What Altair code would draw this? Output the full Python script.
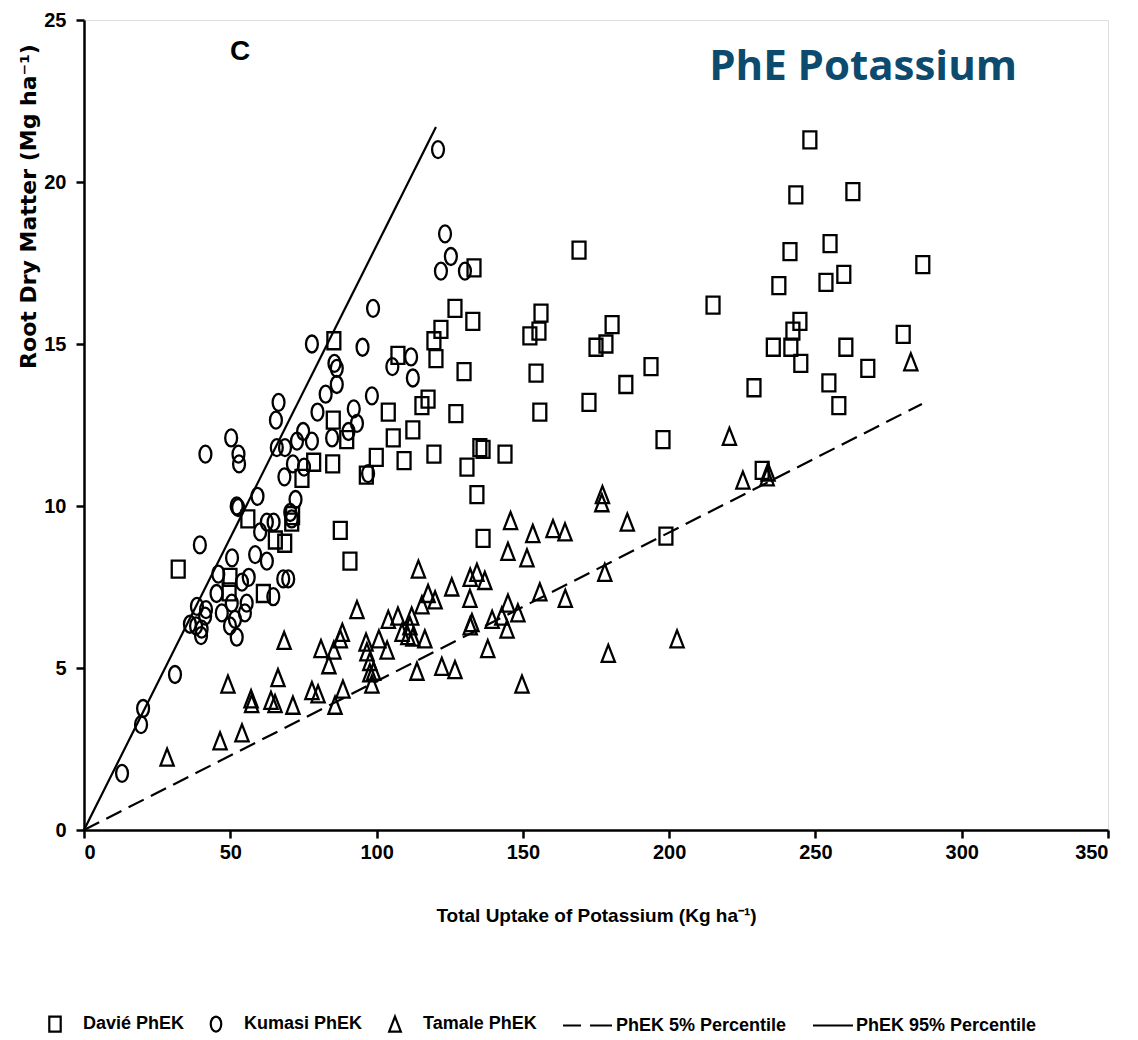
import altair as alt
import pandas as pd

# ---------------- data ----------------
davie_x = [32.2, 56.0, 49.9, 49.6, 61.3, 65.4, 68.6, 71.3, 71.0, 74.5, 78.5, 85.0, 87.6, 90.9, 96.5,
           99.9, 105.7, 104.0, 85.2, 89.8, 85.4, 133.3, 169.2, 126.8, 132.9, 156.2, 155.5, 152.4, 122.0,
           119.6, 120.3, 107.3, 129.9, 154.5, 180.5, 178.4, 175.0, 193.8, 185.2, 215.0, 237.5, 235.6,
           229.0, 117.6, 115.5, 112.4, 127.1, 155.8, 172.6, 109.4, 119.6, 130.9, 135.3, 136.4, 143.9,
           197.9, 134.3, 136.4, 198.9, 231.8, 248.1, 243.3, 262.8, 241.3, 255.0, 253.6, 259.7, 286.7,
           244.7, 242.3, 241.6, 260.4, 280.0, 245.0, 267.9, 254.6, 258.0]
davie_y = [8.05, 9.6, 7.8, 7.35, 7.3, 8.95, 8.85, 9.7, 9.5, 10.85, 11.35, 11.3, 9.25, 8.3, 10.95,
           11.5, 12.1, 12.9, 12.65, 12.05, 15.1, 17.35, 17.9, 16.1, 15.7, 15.95, 15.4, 15.25, 15.45,
           15.1, 14.55, 14.65, 14.15, 14.1, 15.6, 15.0, 14.9, 14.3, 13.75, 16.2, 16.8, 14.9,
           13.65, 13.3, 13.1, 12.35, 12.85, 12.9, 13.2, 11.4, 11.6, 11.2, 11.8, 11.75, 11.6,
           12.05, 10.35, 9.0, 9.07, 11.1, 21.3, 19.6, 19.7, 17.85, 18.1, 16.9, 17.15, 17.45,
           15.7, 15.4, 14.9, 14.9, 15.3, 14.4, 14.25, 13.8, 13.1]

kumasi_x = [13.0, 19.5, 20.2, 31.1, 36.2, 38.3, 40.0, 38.6, 41.4, 41.7, 40.2, 39.6, 41.5,
            50.3, 52.8, 53.0, 52.2, 52.7, 59.3, 62.5, 64.8, 60.2, 58.5, 62.5, 50.6,
            45.9, 45.3, 47.1, 49.9, 52.2, 51.6, 55.0, 55.6, 56.3, 54.0, 50.5, 64.7, 68.1, 69.8,
            66.5, 65.6, 65.9, 68.7, 68.5, 71.4, 72.3, 70.5, 71.0, 72.8, 74.9, 77.9, 79.8, 84.8,
            90.4, 93.3, 92.2, 97.1, 75.2, 77.9, 85.6, 86.4, 86.4, 82.6, 95.2, 98.8, 105.4, 98.4,
            111.8, 112.4, 121.0, 123.4, 125.4, 122.0, 130.2]
kumasi_y = [1.75, 3.25, 3.75, 4.8, 6.35, 6.3, 6.0, 6.9, 6.6, 6.8, 6.2, 8.8, 11.6,
            12.1, 11.6, 11.3, 10.0, 9.95, 10.3, 9.5, 9.5, 9.2, 8.5, 8.3, 8.4,
            7.9, 7.3, 6.7, 6.3, 5.95, 6.5, 6.7, 7.0, 7.8, 7.65, 7.0, 7.2, 7.75, 7.75,
            13.2, 12.65, 11.8, 11.8, 10.9, 11.3, 10.2, 9.8, 9.6, 12.0, 12.3, 12.0, 12.9, 12.1,
            12.3, 12.55, 13.0, 11.0, 11.2, 15.0, 14.4, 14.25, 13.75, 13.45, 14.9, 16.1, 14.3, 13.4,
            14.6, 13.95, 21.0, 18.4, 17.7, 17.25, 17.25]

tamale_x = [28.4, 46.5, 54.0, 49.2, 57.1, 57.3, 63.9, 65.3, 71.4, 66.3, 68.4,
            77.9, 80.0, 85.8, 88.5, 81.0, 83.7, 85.4, 87.6, 88.3,
            93.3, 96.4, 96.7, 97.7, 97.7, 99.0, 98.4, 100.8, 103.6, 104.0, 107.3, 108.7, 111.4,
            112.0, 110.7, 112.4, 116.5, 115.5, 117.6, 120.0, 114.3, 125.7, 131.9, 134.3, 132.0,
            137.0, 132.0, 132.6, 113.8, 122.3, 126.8, 138.0, 139.5, 142.8, 144.9, 144.6, 148.3,
            149.7, 144.9, 151.4, 153.4, 145.8, 160.3, 164.4, 155.8, 164.5,
            177.2, 177.0, 185.7, 178.0, 202.7, 179.2, 220.6, 225.2, 233.8, 233.5, 282.6]
tamale_y = [2.25, 2.75, 3.0, 4.5, 4.05, 3.9, 4.0, 3.9, 3.85, 4.7, 5.85,
            4.3, 4.2, 3.85, 4.35, 5.6, 5.1, 5.55, 5.9, 6.1,
            6.8, 5.8, 5.5, 5.2, 4.85, 4.9, 4.5, 5.9, 5.55, 6.5, 6.6, 6.1, 6.3,
            6.6, 6.0, 5.95, 5.9, 6.95, 7.3, 7.1, 8.05, 7.5, 7.15, 7.95, 7.8,
            7.7, 6.3, 6.4, 4.9, 5.05, 4.95, 5.6, 6.5, 6.6, 7.0, 6.2, 6.7,
            4.5, 8.6, 8.4, 9.15, 9.55, 9.3, 9.2, 7.35, 7.15,
            10.35, 10.1, 9.5, 7.95, 5.9, 5.45, 12.15, 10.8, 11.05, 10.9, 14.45]

p95_x = [0, 120.3]
p95_y = [0, 21.7]
p5_x = [0, 286.4]
p5_y = [0, 13.15]

series_names = ["Davié PhEK", "Kumasi PhEK", "Tamale PhEK", "PhEK 5% Percentile", "PhEK 95% Percentile"]
x_ticks = [0, 50, 100, 150, 200, 250, 300, 350]
y_ticks = [0, 5, 10, 15, 20, 25]

# ---------------- tables ----------------
pts = pd.concat([
    pd.DataFrame({"x": davie_x, "y": davie_y, "series": series_names[0]}),
    pd.DataFrame({"x": kumasi_x, "y": kumasi_y, "series": series_names[1]}),
    pd.DataFrame({"x": tamale_x, "y": tamale_y, "series": series_names[2]}),
], ignore_index=True)
df95 = pd.DataFrame({"x": p95_x, "y": p95_y})
df5 = pd.DataFrame({"x": p5_x, "y": p5_y})

NARROW = "Liberation Sans"

shape_paths = [
    "M-0.76,-1L0.76,-1L0.76,1L-0.76,1Z",
    "M0,-1A0.7,1 0 1,1 0,1A0.7,1 0 1,1 0,-1Z",
    "M0,-1L0.78,1L-0.78,1Z",
    "M-3.33,0L-0.93,0M0.27,0L3.2,0",
    "M-2,0L3.33,0",
]

x_scale = alt.Scale(domain=[0, 350], nice=False, zero=True)
y_scale = alt.Scale(domain=[0, 25], nice=False, zero=True)

x_enc = alt.X("x:Q", scale=x_scale, axis=alt.Axis(
    values=x_ticks, grid=False, title="Total Uptake of Potassium (Kg ha⁻¹)",
    domainColor="black", domainWidth=2.5, tickColor="black", tickWidth=2.5, tickSize=8,
    labelFont=NARROW, labelFontSize=20, labelFontWeight="bold", labelColor="black", labelPadding=4,
    titleFont=NARROW, titleFontSize=19, titleFontWeight="bold", titleColor="black", titlePadding=44,
))
y_enc = alt.Y("y:Q", scale=y_scale, axis=alt.Axis(
    values=y_ticks, grid=False, title="Root Dry Matter (Mg ha⁻¹)",
    domainColor="black", domainWidth=2.5, tickColor="black", tickWidth=2.5, tickSize=8,
    labelFont=NARROW, labelFontSize=20, labelFontWeight="bold", labelColor="black", labelPadding=10,
    titleFont="DejaVu Sans", titleFontSize=22, titleFontWeight="bold", titleColor="black",
    titleX=-56, titleY=186, titleAlign="center", titleBaseline="middle", titleAngle=270,
))

points = alt.Chart(pts).mark_point(
    filled=False, size=289, strokeWidth=2.3, color="black", opacity=1
).encode(
    x=x_enc, y=y_enc,
    shape=alt.Shape("series:N", scale=alt.Scale(domain=series_names, range=shape_paths),
                    legend=alt.Legend(
                        title=None, orient="none", legendX=-38, legendY=995, direction="horizontal",
                        columns=5, padding=0, symbolSize=225, symbolStrokeWidth=2.2,
                        symbolStrokeColor="black", symbolFillColor="transparent",
                        labelOffset=19, columnPadding=21, labelFont=NARROW, labelFontSize=18,
                        labelFontWeight="bold", labelColor="black", labelLimit=400,
                    )),
)

line95 = alt.Chart(df95).mark_line(color="black", strokeWidth=2.2).encode(x=x_enc, y=y_enc)
line5 = alt.Chart(df5).mark_line(color="black", strokeWidth=2.2, strokeDash=[17, 8]).encode(x=x_enc, y=y_enc)

c_label = alt.Chart(pd.DataFrame({"t": ["C"]})).mark_text(
    font=NARROW, fontSize=28, fontWeight="bold", color="black", align="center", baseline="middle"
).encode(text="t:N", x=alt.value(156), y=alt.value(32))

head = alt.Chart(pd.DataFrame({"t": ["PhE Potassium"]})).mark_text(
    font="Open Sans", fontSize=42, fontWeight="bold", color="#0c4a6e", align="right", baseline="alphabetic"
).encode(text="t:N", x=alt.value(933), y=alt.value(60))

chart = alt.layer(line5, line95, points, c_label, head).properties(
    width=1024, height=810,
    padding={"left": 84, "top": 20, "right": 30, "bottom": 210},
    autosize=alt.AutoSizeParams(type="none"),
).configure_view(stroke=None).configure(background="white")

chart.save("out.html", embed_options={"renderer": "svg", "actions": False})
